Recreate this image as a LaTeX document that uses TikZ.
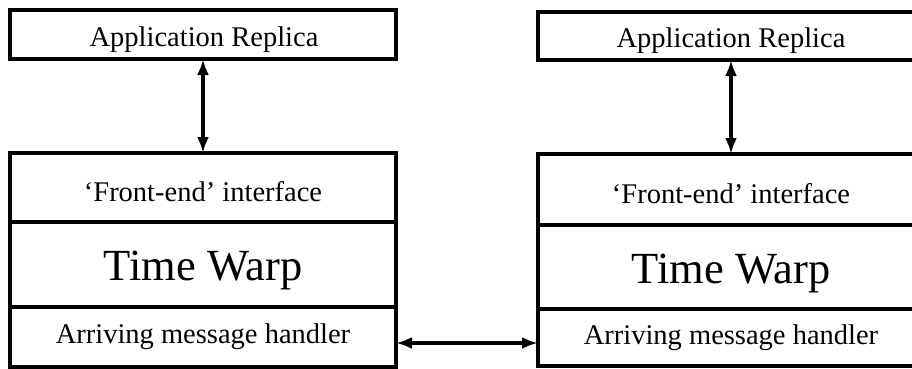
\documentclass[tikz,border=0pt]{standalone}
\usepackage{fontspec}
\setmainfont{Liberation Serif}
\usetikzlibrary{arrows.meta}
\begin{document}
\begin{tikzpicture}[x=1pt,y=-1pt,
  box/.style={draw, line width=3.2pt, rectangle, inner sep=0pt, outer sep=0pt,
    minimum width=386pt},
  lbl/.style={anchor=base, inner sep=0pt, font=\fontsize{28.5}{32}\selectfont},
  biglbl/.style={anchor=base, inner sep=0pt, font=\fontsize{44.5}{50}\selectfont},
  arr/.style={line width=3.2pt, {Latex[length=16pt,width=12pt]}-{Latex[length=16pt,width=12pt]}}]
\clip (0,0) rectangle (912,369);
% left column
\node[box, minimum height=49pt] (appL) at (203,34.5) {};
\node[box, minimum height=69pt] (feL) at (203,187.5) {};
\node[box, minimum height=85pt] (twL) at (203,264.5) {};
\node[box, minimum height=60pt] (amL) at (203,337) {};
\node[lbl] (tappL) at (204,47) {Application Replica};
\node[lbl] (tfeL) at (203,201) {`Front-end' interface};
\node[biglbl] (ttwL) at (203,280) {Time Warp};
\node[lbl] (tamL) at (203,343) {Arriving message handler};
% right column
\node[box, minimum height=48pt] (appR) at (731,36) {};
\node[box, minimum height=71pt] (feR) at (731,189.5) {};
\node[box, minimum height=84pt] (twR) at (731,267) {};
\node[box, minimum height=57pt] (amR) at (731,337.5) {};
\node[lbl] (tappR) at (731,47.5) {Application Replica};
\node[lbl] (tfeR) at (731,203) {`Front-end' interface};
\node[biglbl] (ttwR) at (731,283) {Time Warp};
\node[lbl] (tamR) at (731,344) {Arriving message handler};
% connectors
\draw[arr] (appL.south) -- (feL.north);
\draw[arr] (appR.south) -- (feR.north);
\draw[arr] ([yshift=-6pt]amL.east) -- ([yshift=-5.5pt]amR.west);
\end{tikzpicture}
\end{document}
